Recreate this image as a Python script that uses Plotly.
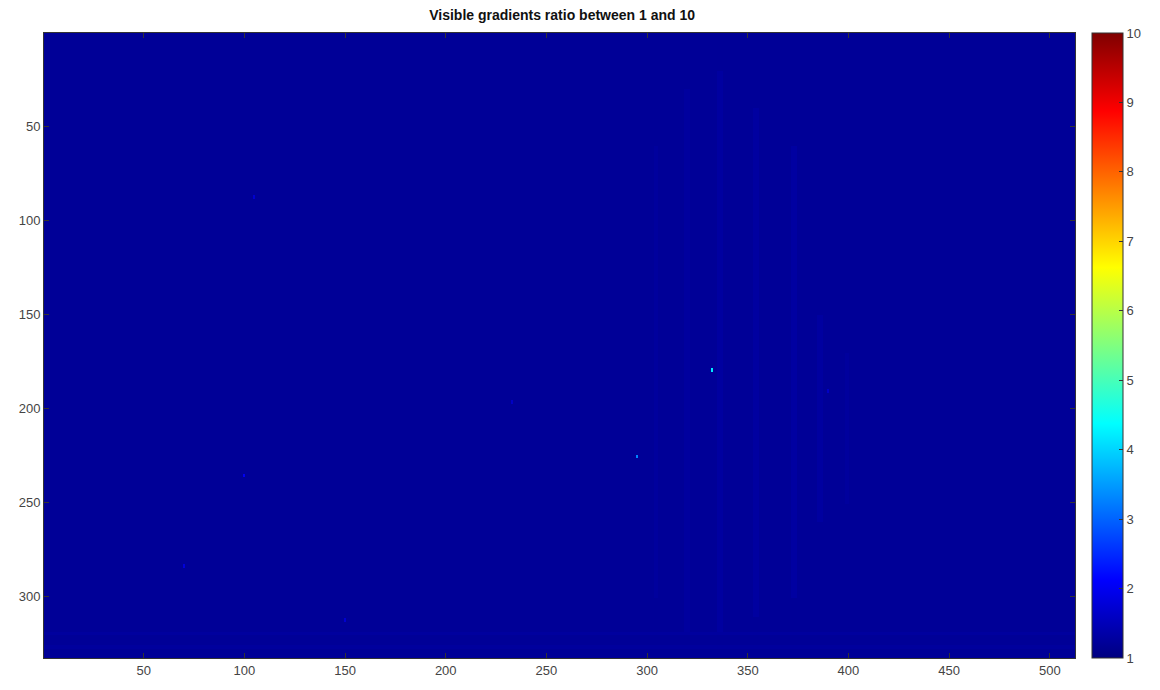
import numpy as np
import plotly.graph_objects as go

# ---- data ----
n_rows = 332
n_cols = 512
base_value = 1.2

# faint vertical streaks: (col_start, col_end, row_start, row_end, value)
band_c0 = [303, 318, 334, 352, 371, 384, 398]
band_c1 = [305, 321, 337, 355, 374, 387, 400]
band_r0 = [60, 30, 20, 40, 60, 150, 170]
band_r1 = [300, 320, 320, 310, 300, 260, 250]
band_v = [1.26, 1.27, 1.28, 1.28, 1.29, 1.28, 1.26]

# faint row bands near the bottom: (row_start, row_end, value)
rowband_r0 = [318, 325]
rowband_r1 = [320, 327]
rowband_v = [1.27, 1.26]

# isolated bright cells
spot_x = [332, 295, 100, 70, 105, 233, 390, 150]
spot_y = [179, 225, 235, 283, 87, 196, 190, 312]
spot_v = [4.2, 3.3, 2.0, 1.8, 1.7, 1.6, 1.6, 1.7]

x_ticks = [50, 100, 150, 200, 250, 300, 350, 400, 450, 500]
y_ticks = [50, 100, 150, 200, 250, 300]
cbar_ticks = [1, 2, 3, 4, 5, 6, 7, 8, 9, 10]
zmin, zmax = 1, 10
title = "Visible gradients ratio between 1 and 10"

# ---- build the image ----
z = np.full((n_rows, n_cols), base_value)
for c0, c1, r0, r1, v in zip(band_c0, band_c1, band_r0, band_r1, band_v):
    z[r0:r1, c0:c1] = v
for r0, r1, v in zip(rowband_r0, rowband_r1, rowband_v):
    z[r0:r1, :] = v
for sx, sy, sv in zip(spot_x, spot_y, spot_v):
    z[sy - 1, sx - 1] = sv
    z[sy, sx - 1] = sv

xs = np.arange(1, n_cols + 1)
ys = np.arange(1, n_rows + 1)

jet = [
    [0.0, "rgb(0,0,128)"],
    [0.125, "rgb(0,0,255)"],
    [0.375, "rgb(0,255,255)"],
    [0.625, "rgb(255,255,0)"],
    [0.875, "rgb(255,0,0)"],
    [1.0, "rgb(128,0,0)"],
]

fig = go.Figure(
    go.Heatmap(
        z=z, x=xs, y=ys, zmin=zmin, zmax=zmax, colorscale=jet,
        colorbar=dict(
            x=1.0165, xanchor="left", y=0.5, yanchor="middle", len=1.0,
            lenmode="fraction", thickness=31, outlinewidth=1,
            outlinecolor="#333", tickvals=cbar_ticks, ticks="inside",
            ticklen=4, tickcolor="#333", xpad=0, ypad=0,
            tickfont=dict(family="Liberation Sans, Arial", size=13, color="#444"),
        ),
        hoverinfo="skip",
    )
)

axis_common = dict(
    showline=True, linecolor="#333", linewidth=1, mirror="ticks",
    ticks="inside", ticklen=5, tickcolor="#333", showgrid=False,
    zeroline=False,
    tickfont=dict(family="Liberation Sans, Arial", size=13, color="#444"),
)

fig.update_xaxes(range=[0.5, n_cols + 0.5], tickvals=x_ticks, **axis_common)
fig.update_yaxes(range=[n_rows + 0.5, 0.5], tickvals=y_ticks, **axis_common)

fig.update_layout(
    width=1152, height=682,
    margin=dict(l=36, r=85, t=25, b=32, autoexpand=False),
    paper_bgcolor="white", plot_bgcolor="white",
    title=dict(text="<b>" + title + "</b>", x=0.481, xanchor="center",
               y=0.99, yanchor="middle",
               font=dict(family="Liberation Sans, Arial", size=14, color="#111")),
)

fig.write_html("out.html")
